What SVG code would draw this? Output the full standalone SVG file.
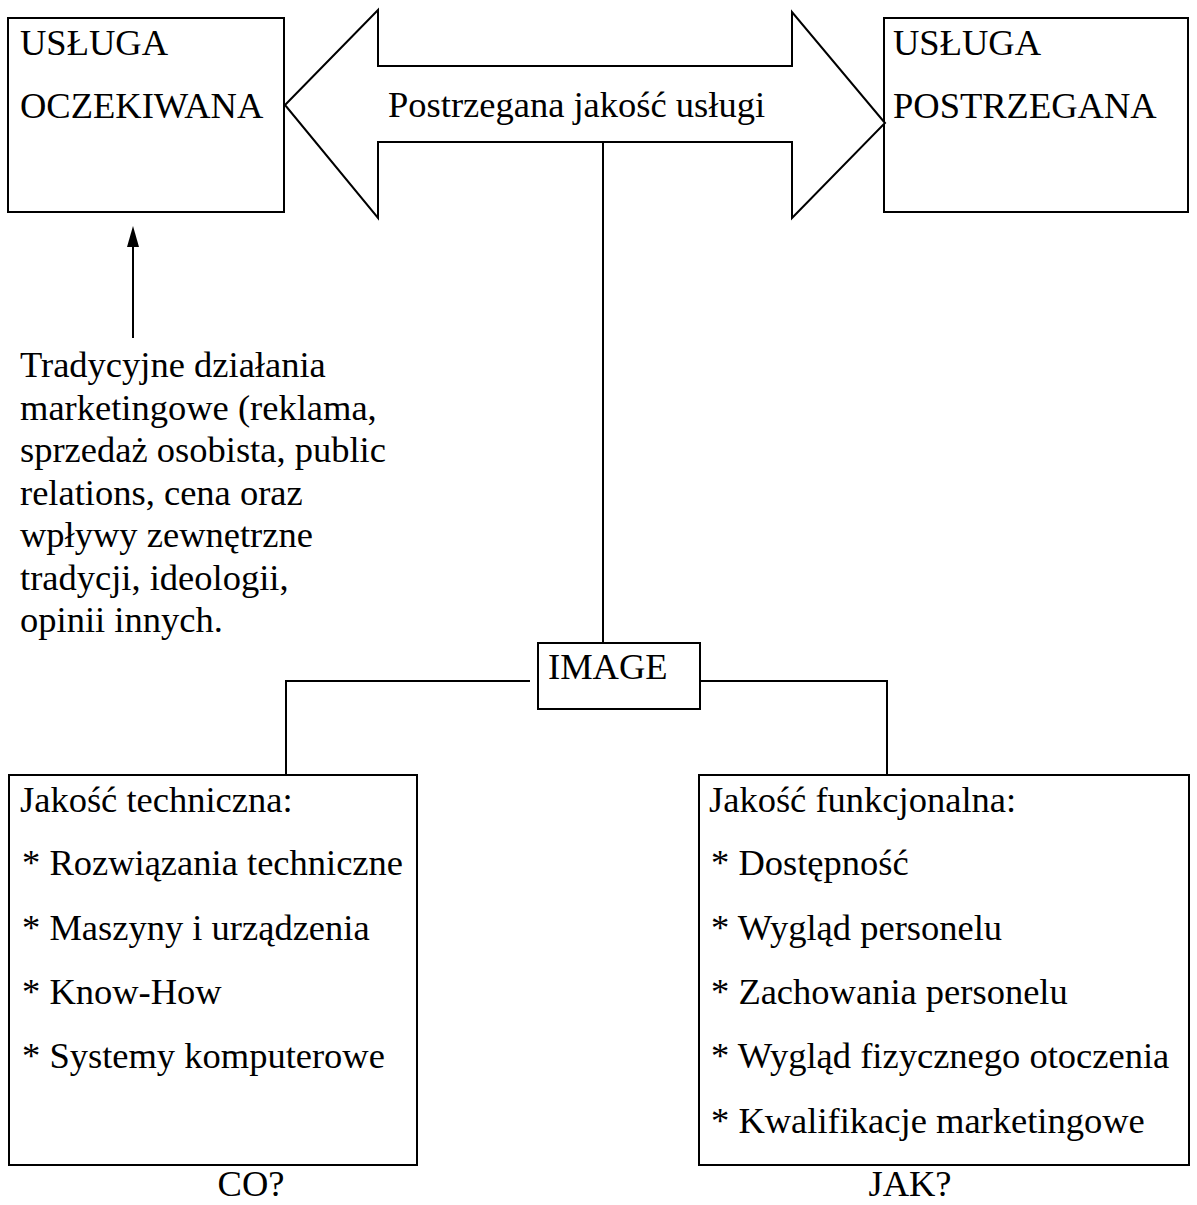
<svg xmlns="http://www.w3.org/2000/svg" width="1197" height="1205" viewBox="0 0 1197 1205">
  <style>
    .box { fill: #ffffff; stroke: #000000; stroke-width: 2; }
    .ln { fill: none; stroke: #000000; stroke-width: 2; }
    .head { fill: #000000; stroke: none; }
    text { font-family: "Liberation Serif", "Times New Roman", serif; font-size: 36.5px; fill: #000000; }
  </style>
  <rect width="1197" height="1205" fill="#ffffff"/>

  <!-- connectors -->
  <g id="connectors">
    <line class="ln" x1="133" y1="338" x2="133" y2="244"/>
    <polygon class="head" points="127,247 133,226 139,247"/>
    <line class="ln" x1="603" y1="133" x2="603" y2="643"/>
    <polyline class="ln" points="530,681 286,681 286,775"/>
    <polyline class="ln" points="700,681 887,681 887,775"/>
  </g>

  <!-- expected service -->
  <g id="node-oczekiwana">
    <rect class="box" x="8" y="18" width="276" height="194"/>
    <text x="20" y="55">USŁUGA</text>
    <text x="20" y="118">OCZEKIWANA</text>
  </g>

  <!-- perceived service -->
  <g id="node-postrzegana">
    <rect class="box" x="884" y="18" width="304" height="194"/>
    <text x="893" y="55">USŁUGA</text>
    <text x="893" y="118">POSTRZEGANA</text>
  </g>

  <!-- double-headed arrow between the two services -->
  <g id="node-jakosc">
    <polygon class="box" points="285,105 378,10 378,66 792,66 792,12 885,123 792,218 792,142 378,142 378,218"/>
    <text x="388" y="117">Postrzegana jakość usługi</text>
  </g>

  <!-- traditional marketing activities -->
  <g id="node-tradycyjne">
    <text x="20" y="377">Tradycyjne działania</text>
    <text x="20" y="419.5">marketingowe (reklama,</text>
    <text x="20" y="462">sprzedaż osobista, public</text>
    <text x="20" y="504.5">relations, cena oraz</text>
    <text x="20" y="547">wpływy zewnętrzne</text>
    <text x="20" y="589.5">tradycji, ideologii,</text>
    <text x="20" y="632">opinii innych.</text>
  </g>

  <!-- image -->
  <g id="node-image">
    <rect class="box" x="538" y="643" width="162" height="66"/>
    <text x="548" y="679">IMAGE</text>
  </g>

  <!-- technical quality -->
  <g id="node-techniczna">
    <rect class="box" x="9" y="775" width="408" height="390"/>
    <text x="20" y="812">Jakość techniczna:</text>
    <text x="22" y="875">* Rozwiązania techniczne</text>
    <text x="22" y="940">* Maszyny i urządzenia</text>
    <text x="22" y="1004">* Know-How</text>
    <text x="22" y="1068">* Systemy komputerowe</text>
    <text x="251" y="1196" text-anchor="middle">CO?</text>
  </g>

  <!-- functional quality -->
  <g id="node-funkcjonalna">
    <rect class="box" x="699" y="775" width="490" height="390"/>
    <text x="709" y="812">Jakość funkcjonalna:</text>
    <text x="711" y="875">* Dostępność</text>
    <text x="711" y="940">* Wygląd personelu</text>
    <text x="711" y="1004">* Zachowania personelu</text>
    <text x="711" y="1068">* Wygląd fizycznego otoczenia</text>
    <text x="711" y="1133">* Kwalifikacje marketingowe</text>
    <text x="910" y="1196" text-anchor="middle">JAK?</text>
  </g>
</svg>
